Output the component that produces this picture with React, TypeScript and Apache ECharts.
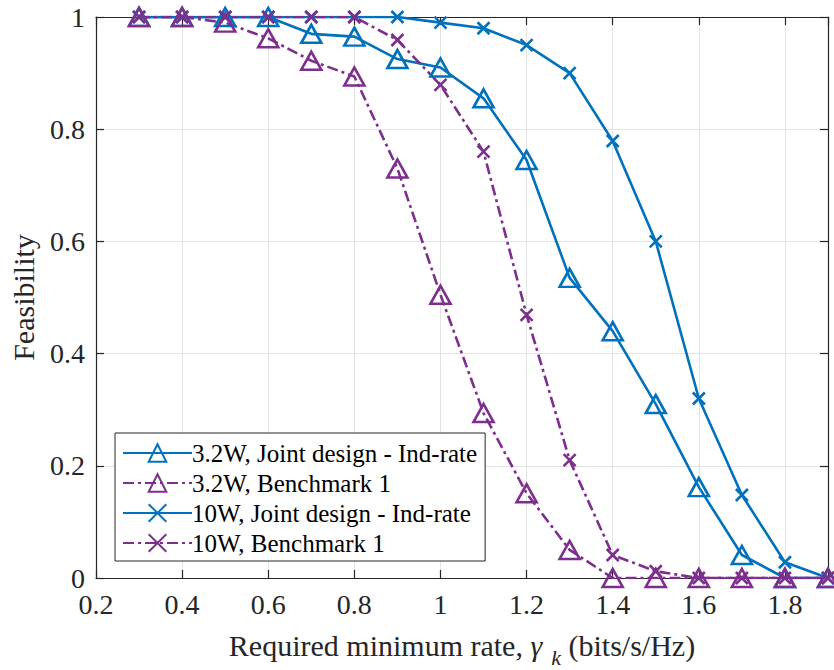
import React, { useEffect, useRef } from "react";
import * as echarts from "echarts";

const xValues = [0.3, 0.4, 0.5, 0.6, 0.7, 0.8, 0.9, 1.0, 1.1, 1.2, 1.3, 1.4, 1.5, 1.6, 1.7, 1.8, 1.9];
const joint32 = [1, 1, 1, 1, 0.97, 0.965, 0.925, 0.91, 0.855, 0.745, 0.535, 0.44, 0.31, 0.162, 0.041, 0, 0];
const bench32 = [1, 1, 0.99, 0.962, 0.922, 0.894, 0.73, 0.505, 0.294, 0.151, 0.05, 0, 0, 0, 0, 0, 0];
const joint10 = [1, 1, 1, 1, 1, 1, 1, 0.99, 0.98, 0.95, 0.9, 0.779, 0.6, 0.32, 0.148, 0.028, 0];
const bench10 = [1, 1, 1, 1, 1, 1, 0.959, 0.879, 0.76, 0.469, 0.21, 0.041, 0.012, 0, 0, 0, 0];
const seriesNames = [
  "3.2W, Joint design - Ind-rate",
  "3.2W, Benchmark 1",
  "10W, Joint design - Ind-rate",
  "10W, Benchmark 1",
];

const BLUE = "#0072BD";
const PURPLE = "#7E2F8E";
const AXIS = "#262626";
const FONT = "Liberation Serif, serif";
const CROSS = "path://M0,0L10,10M10,0L0,10";

export default function App() {
  const ref = useRef<HTMLDivElement>(null);
  useEffect(() => {
    if (!ref.current) return;
    const chart = echarts.init(ref.current, null, { renderer: "svg" });
    const mk = (name: string, data: number[], color: string, dashed: boolean, tri: boolean) => ({
      name,
      type: "line",
      xAxisIndex: 0,
      yAxisIndex: 0,
      data: xValues.map((x, i) => [x, data[i]]),
      symbol: tri ? "triangle" : CROSS,
      symbolSize: tri ? [20, 18] : 12,
      showSymbol: true,
      lineStyle: {
        color,
        width: 2.6,
        type: dashed ? [11, 4, 3, 4] : "solid",
      },
      itemStyle: {
        color: "rgba(255,255,255,0)",
        borderColor: color,
        borderWidth: 2.6,
      },
      emphasis: { disabled: true },
    });
    const axisCommon = {
      axisLine: { show: true, onZero: false, lineStyle: { color: AXIS, width: 1.2 } },
      axisTick: { show: true, inside: true, length: 8, lineStyle: { color: AXIS, width: 1.2 } },
    };
    chart.setOption({
      animation: false,
      backgroundColor: "#fff",
      grid: { left: 96, right: 6, top: 17, bottom: 92, containLabel: false, outerBoundsMode: "none" },
      xAxis: [
        {
          type: "value",
          min: 0.2,
          max: 1.9,
          interval: 0.2,
          position: "bottom",
          ...axisCommon,
          splitLine: { show: true, lineStyle: { color: "#e3e3e3", width: 1 } },
          axisLabel: {
            color: AXIS,
            fontFamily: FONT,
            fontSize: 28,
            margin: 12,
            formatter: (v: number) => (Math.abs(v - 1.9) < 1e-6 ? "" : String(+v.toFixed(1))),
          },
          name: "Required minimum rate, {g|γ}{k|k} (bits/s/Hz)",
          nameLocation: "middle",
          nameGap: 44,
          nameTextStyle: {
            color: AXIS,
            fontFamily: FONT,
            fontSize: 30,
            rich: {
              g: { fontFamily: FONT, fontSize: 30, fontStyle: "italic", color: AXIS },
              k: {
                fontFamily: FONT,
                fontSize: 22,
                fontStyle: "italic",
                color: AXIS,
                lineHeight: 18,
                padding: [24, 0, 0, 9],
              },
            },
          },
        },
        {
          type: "value",
          min: 0.2,
          max: 1.9,
          interval: 0.2,
          position: "top",
          ...axisCommon,
          splitLine: { show: false },
          axisLabel: { show: false },
        },
      ],
      yAxis: [
        {
          type: "value",
          min: 0,
          max: 1,
          interval: 0.2,
          position: "left",
          ...axisCommon,
          splitLine: { show: true, lineStyle: { color: "#e3e3e3", width: 1 } },
          axisLabel: {
            color: AXIS,
            fontFamily: FONT,
            fontSize: 28,
            margin: 11,
            formatter: (v: number) => String(+v.toFixed(1)),
          },
          name: "Feasibility",
          nameLocation: "middle",
          nameGap: 58,
          nameTextStyle: { color: AXIS, fontFamily: FONT, fontSize: 30 },
        },
        {
          type: "value",
          min: 0,
          max: 1,
          interval: 0.2,
          position: "right",
          ...axisCommon,
          splitLine: { show: false },
          axisLabel: { show: false },
        },
      ],
      legend: {
        show: true,
        orient: "vertical",
        left: 115,
        top: 433,
        data: seriesNames,
        itemWidth: 69,
        itemHeight: 22,
        itemGap: 0,
        padding: [5, 8, 3, 7],
        backgroundColor: "#fff",
        borderColor: AXIS,
        borderWidth: 1,
        borderRadius: 0,
        selectedMode: false,
        textStyle: {
          color: "#000",
          fontFamily: FONT,
          fontSize: 25,
          lineHeight: 30,
          padding: [0, 0, 0, -5],
        },
      },
      series: [
        mk(seriesNames[0], joint32, BLUE, false, true),
        mk(seriesNames[1], bench32, PURPLE, true, true),
        mk(seriesNames[2], joint10, BLUE, false, false),
        mk(seriesNames[3], bench10, PURPLE, true, false),
      ],
    });
    return () => chart.dispose();
  }, []);
  return <div ref={ref} style={{ width: 834, height: 670, position: "absolute", left: 0, top: 0 }} />;
}
